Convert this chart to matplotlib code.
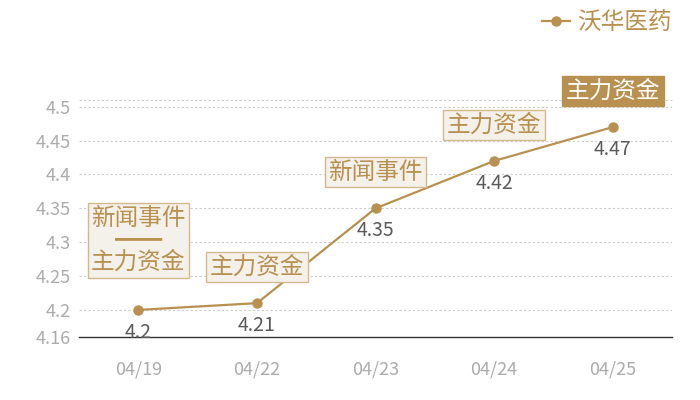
import matplotlib
matplotlib.use("Agg")
import matplotlib.pyplot as plt
from matplotlib.lines import Line2D

plt.rcParams['font.family'] = ['Noto Sans CJK SC', 'DejaVu Sans']

dates = ["04/19", "04/22", "04/23", "04/24", "04/25"]
prices = [4.2, 4.21, 4.35, 4.42, 4.47]
events = ["新闻事件\n━━\n主力资金", "主力资金", "新闻事件", "主力资金", "主力资金"]
highlight = [False, False, False, False, True]
series_name = "沃华医药"
y_ticks = [4.16, 4.2, 4.25, 4.3, 4.35, 4.4, 4.45, 4.5]
y_min, y_max = 4.16, 4.51

GOLD = "#b8904f"
BOX_FACE = "#f4f0ea"
BOX_EDGE = "#d4b98c"
VAL_COLOR = "#5a5a5a"
TICK_COLOR = "#ababab"

fig = plt.figure(figsize=(7, 4), dpi=100)
ax = fig.add_axes([0.113, 0.1575, 0.847, 0.5925])

x = list(range(len(dates)))
ax.plot(x, prices, color=GOLD, lw=1.6, marker='o', ms=6.5, zorder=3)

ax.set_xlim(-0.5, len(dates) - 0.5)
ax.set_ylim(y_min, y_max)
ax.set_xticks(x)
ax.set_xticklabels(dates)
ax.set_yticks(y_ticks)
ax.set_yticklabels([f"{v:g}" for v in y_ticks])
ax.tick_params(axis='both', length=0, colors=TICK_COLOR, labelsize=13)
ax.tick_params(axis='x', pad=17)
ax.tick_params(axis='y', pad=6)

for s in ['top', 'right', 'left']:
    ax.spines[s].set_visible(False)
ax.spines['bottom'].set_color('#333333')
ax.spines['bottom'].set_linewidth(1.0)

for v in y_ticks[1:]:
    ax.axhline(v, color='#cccccc', lw=0.8, ls=(0, (2, 2)), zorder=1)
ax.axhline(y_max, color='#cccccc', lw=0.8, ls=(0, (2, 2)), zorder=1, clip_on=False)

for i, (p, ev, hl) in enumerate(zip(prices, events, highlight)):
    ax.annotate(f"{p:g}", (i, p), xytext=(0, -16), textcoords='offset points',
                ha='center', va='center', fontsize=14, color=VAL_COLOR, zorder=4)
    multi = "\n" in ev
    off = 50 if multi else 26
    if hl:
        bbox = dict(boxstyle='square,pad=0.15', fc=GOLD, ec=GOLD, lw=1)
        tc = 'white'
    else:
        bbox = dict(boxstyle='square,pad=0.15', fc=BOX_FACE, ec=BOX_EDGE, lw=1)
        tc = GOLD
    ax.annotate(ev, (i, p), xytext=(0, off), textcoords='offset points',
                ha='center', va='center', fontsize=17, color=tc, bbox=bbox,
                linespacing=0.95, zorder=5, multialignment='center')

handle = Line2D([], [], color=GOLD, lw=1.6, marker='o', ms=6.5)
leg = fig.legend([handle], [series_name], loc='upper right',
                 bbox_to_anchor=(0.99, 1.025), frameon=False,
                 fontsize=17, handlelength=1.2, handletextpad=0.3)
for t in leg.get_texts():
    t.set_color(GOLD)

fig.savefig("out.png", dpi=100)
